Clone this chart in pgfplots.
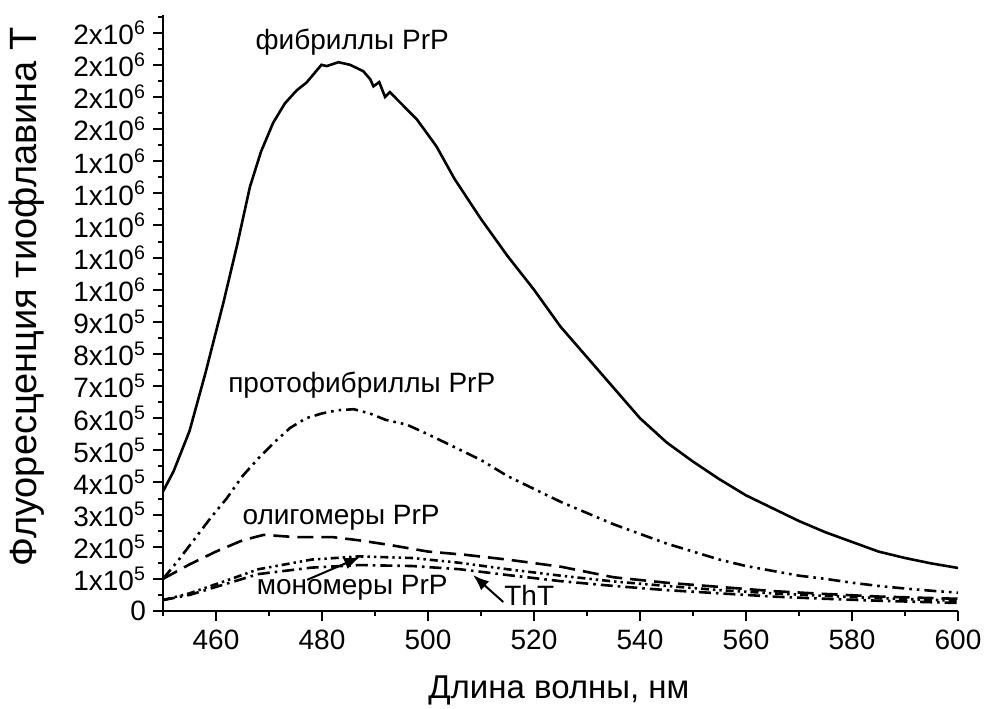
\documentclass[border=0pt]{standalone}
\usepackage{fontspec}
\setmainfont{Liberation Sans}
\usepackage{pgfplots}
\pgfplotsset{compat=1.18}
\usetikzlibrary{arrows.meta}

\newcommand\ea{x10\textsuperscript{5}}
\newcommand\eb{x10\textsuperscript{6}}

\begin{document}
\begin{tikzpicture}
\path[use as bounding box] (-81.5pt,-48.5pt) rectangle (410.5pt,305.5pt);
\begin{axis}[
    scale only axis,
    width=397.5pt, height=298pt,
    xmin=450, xmax=600,
    ymin=0, ymax=1.855e6,
    axis x line*=bottom, axis y line*=left,
    axis line style={line width=1pt},
    tick align=outside,
    tick style={line width=1pt, black},
    major tick length=5pt, minor tick length=2.5pt,
    xtick={460,480,...,600},
    minor xtick={450,470,...,590},
    ytick={0,1e5,...,1.8e6},
    minor ytick={0.5e5,1.5e5,...,1.85e6},
    yticklabels={0,1\ea,2\ea,3\ea,4\ea,5\ea,6\ea,7\ea,8\ea,9\ea,
        1\eb,1\eb,1\eb,1\eb,1\eb,2\eb,2\eb,2\eb,2\eb},
    scaled y ticks=false,
    /pgf/number format/assume math mode=true,
    tick label style={font=\fontsize{14}{16}\selectfont},
    xticklabel style={yshift=-1pt},
    xlabel style={font=\fontsize{16.5}{18}\selectfont},
    ylabel style={font=\fontsize{19}{21}\selectfont},
    xlabel={Длина волны, нм},
    ylabel={Флуоресценция тиофлавина Т},
    xlabel style={at={(axis description cs:0.498,-0.1326)}, anchor=center},
    ylabel style={at={(axis description cs:-0.172,0.527)}, anchor=center},
    clip=false,
    every axis plot/.append style={line width=1.3pt, black, no marks},
]
% fibrils PrP
\addplot[solid] coordinates {
(450,3.72e5) (452,4.35e5) (455,5.6e5) (458,7.4e5) (461.4,9.6e5) (464,11.4e5)
(466.4,13.2e5) (468.5,14.3e5) (470.8,15.2e5) (473,15.8e5) (475.2,16.2e5) (477.1,16.45e5)
(479.9,17.0e5) (480.9,16.96e5) (483.1,17.08e5) (485.3,17.0e5) (487.8,16.8e5) (489.1,16.55e5)
(489.7,16.33e5) (490.8,16.46e5) (491.9,16.0e5) (492.8,16.15e5) (497.9,15.3e5) (501.6,14.46e5)
(505,13.45e5) (510,12.2e5) (515,11.05e5)
(520,10.0e5) (525,8.85e5) (530,7.9e5) (535,6.95e5) (540,6.0e5) (545,5.25e5)
(550,4.65e5) (555,4.1e5) (560,3.6e5) (565,3.2e5) (570,2.8e5) (575,2.45e5)
(580,2.15e5) (585,1.85e5) (590,1.65e5) (595,1.48e5) (600,1.34e5)
};
% protofibrils PrP
\addplot[dash pattern=on 6pt off 2.5pt on 1.3pt off 2.5pt on 1.3pt off 2.5pt] coordinates {
(450,1.0e5) (453,1.6e5) (456,2.25e5) (459,2.9e5) (462,3.5e5) (465,4.2e5)
(468,4.75e5) (471,5.25e5) (474,5.7e5) (477,6.0e5) (480,6.15e5) (483,6.25e5)
(486,6.28e5) (489,6.15e5) (492,5.95e5) (496,5.8e5) (500,5.5e5) (505,5.1e5)
(510,4.7e5) (515,4.2e5) (520,3.8e5) (525,3.4e5) (530,3.05e5) (535,2.7e5)
(540,2.4e5) (545,2.1e5) (550,1.85e5) (555,1.6e5) (560,1.4e5) (565,1.25e5)
(570,1.1e5) (575,1.0e5) (580,0.88e5) (585,0.78e5) (590,0.7e5) (595,0.63e5) (600,0.57e5)
};
% oligomers PrP
\addplot[dash pattern=on 8pt off 4pt] coordinates {
(450,1.0e5) (455,1.45e5) (460,1.85e5) (465,2.2e5) (469,2.37e5) (475,2.3e5)
(482,2.3e5) (487,2.2e5) (493,2.05e5) (500,1.85e5) (507,1.75e5) (515,1.6e5)
(525,1.38e5) (535,1.05e5) (545,0.88e5) (555,0.75e5) (565,0.62e5) (575,0.53e5)
(585,0.45e5) (600,0.38e5)
};
% monomers PrP
\addplot[dash pattern=on 4pt off 2pt on 1.2pt off 2pt on 1.2pt off 2pt] coordinates {
(450,0.34e5) (455,0.55e5) (462,0.95e5) (468,1.3e5) (478,1.6e5) (487,1.7e5)
(497,1.65e5) (506,1.5e5) (515,1.3e5) (525,1.1e5) (535,0.92e5) (545,0.78e5)
(555,0.65e5) (565,0.55e5) (575,0.47e5) (585,0.4e5) (600,0.32e5)
};
% ThT
\addplot[dash pattern=on 6pt off 2.5pt on 1.3pt off 2.5pt] coordinates {
(450,0.34e5) (455,0.5e5) (462,0.85e5) (468,1.15e5) (478,1.35e5) (487,1.43e5)
(497,1.4e5) (506,1.3e5) (515,1.12e5) (525,0.93e5) (535,0.78e5) (545,0.65e5)
(555,0.55e5) (565,0.45e5) (575,0.38e5) (585,0.32e5) (600,0.25e5)
};
\begin{scope}[every node/.style={font=\fontsize{14}{16}\selectfont}]
\node at (axis cs:485.7,17.7e5) {фибриллы PrP};
\node at (axis cs:487.5,7.04e5) {протофибриллы PrP};
\node at (axis cs:483.6,2.9e5) {олигомеры PrP};
\node at (axis cs:485.7,0.72e5) {мономеры PrP};
\node at (axis cs:519.1,0.5e5) {ThT};
\end{scope}
\draw[line width=1pt,-{Latex[length=8pt,width=6pt]}] (axis cs:477.2,0.97e5) -- (axis cs:487.2,1.68e5);
\draw[line width=1pt,-{Latex[length=8pt,width=6pt]}] (axis cs:514.2,0.28e5) -- (axis cs:508.5,1.12e5);
\end{axis}
\end{tikzpicture}
\end{document}
